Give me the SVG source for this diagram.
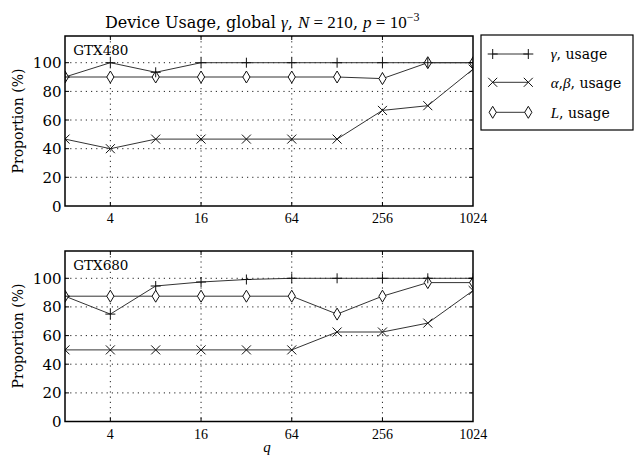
<svg xmlns="http://www.w3.org/2000/svg" xmlns:xlink="http://www.w3.org/1999/xlink" width="635" height="459" viewBox="0 0 635 459">
  <style>
    text { font-family: "DejaVu Serif", serif; fill: #000; }
    .math { font-family: "Liberation Serif", "DejaVu Serif", serif; font-style: italic; }
    .mroman { font-family: "Liberation Serif", "DejaVu Serif", serif; }
    .ytick { font-size: 15px; text-anchor: end; }
    .xtick { font-family: "Liberation Serif", "DejaVu Serif", serif; font-size: 14px; text-anchor: middle; }
    .ylabel { font-size: 14px; text-anchor: middle; }
    .grid { stroke: #222; stroke-width: 1; stroke-dasharray: 1.2 4; fill: none; }
    .spine { stroke: #000; stroke-width: 1.5; fill: none; }
    .tick { stroke: #000; stroke-width: 1; }
    .series { stroke: #333; stroke-width: 1; fill: none; stroke-linejoin: round; }
    .mk { stroke: #111; stroke-width: 1; fill: none; }
    .dia { stroke: #111; stroke-width: 1; fill: #fff; }
    .legendbox { stroke: #000; stroke-width: 1.2; fill: #fff; }
  </style>
  <defs>
    <path id="m-plus" class="mk" d="M-5,0H5M0,-5V5"/>
    <path id="m-cross" class="mk" d="M-4.5,-4.5L4.5,4.5M-4.5,4.5L4.5,-4.5"/>
    <path id="m-dia" class="dia" d="M0,-6L3.6,0L0,6L-3.6,0Z"/>
    <clipPath id="clip-top"><rect x="65" y="36" width="408" height="170"/></clipPath>
    <clipPath id="clip-bot"><rect x="65" y="251" width="408" height="170.5"/></clipPath>
  </defs>

  <rect width="635" height="459" fill="#fff"/>

  <!-- title -->
  <g id="title">
    <text x="105" y="28.3" font-size="16">Device Usage, global <tspan class="math" font-size="17">γ</tspan>, <tspan class="math" font-size="17">N</tspan><tspan class="mroman" font-size="17"> = 210</tspan>, <tspan class="math" font-size="17">p</tspan><tspan class="mroman" font-size="17"> = 10</tspan><tspan class="mroman" font-size="12" dy="-7">−3</tspan></text>
  </g>

  <!-- upper panel: GTX480 -->
  <g id="axes-gtx480">
    <g class="grid">
      <path d="M65,177.3H473M65,148.7H473M65,120H473M65,91.4H473M65,62.7H473"/>
      <path d="M110.35,36V206M201.05,36V206M291.75,36V206M382.45,36V206"/>
    </g>
    <g clip-path="url(#clip-top)">
      <polyline class="series" points="65,77 110.35,62.7 155.7,72.3 201.05,62.7 246.4,62.7 291.75,62.7 337.1,62.7 382.45,62.7 427.8,62.7 473.15,62.7"/>
      <polyline class="series" points="65,139.1 110.35,148.7 155.7,139.1 201.05,139.1 246.4,139.1 291.75,139.1 337.1,139.1 382.45,110.4 427.8,105.7 473.15,69.1"/>
      <polyline class="series" points="65,77 110.35,77 155.7,77 201.05,77 246.4,77 291.75,77 337.1,77 382.45,78.6 427.8,62.7 473.15,62.7"/>
      <g>
        <use xlink:href="#m-cross" x="65" y="139.1"/><use xlink:href="#m-cross" x="110.35" y="148.7"/>
        <use xlink:href="#m-cross" x="155.7" y="139.1"/><use xlink:href="#m-cross" x="201.05" y="139.1"/>
        <use xlink:href="#m-cross" x="246.4" y="139.1"/><use xlink:href="#m-cross" x="291.75" y="139.1"/>
        <use xlink:href="#m-cross" x="337.1" y="139.1"/><use xlink:href="#m-cross" x="382.45" y="110.4"/>
        <use xlink:href="#m-cross" x="427.8" y="105.7"/><use xlink:href="#m-cross" x="473.15" y="69.1"/>
      </g>
      <g>
        <use xlink:href="#m-dia" x="65" y="77"/><use xlink:href="#m-dia" x="110.35" y="77"/>
        <use xlink:href="#m-dia" x="155.7" y="77"/><use xlink:href="#m-dia" x="201.05" y="77"/>
        <use xlink:href="#m-dia" x="246.4" y="77"/><use xlink:href="#m-dia" x="291.75" y="77"/>
        <use xlink:href="#m-dia" x="337.1" y="77"/><use xlink:href="#m-dia" x="382.45" y="78.6"/>
        <use xlink:href="#m-dia" x="427.8" y="62.7"/><use xlink:href="#m-dia" x="473.15" y="62.7"/>
      </g>
      <g>
        <use xlink:href="#m-plus" x="65" y="77"/><use xlink:href="#m-plus" x="110.35" y="62.7"/>
        <use xlink:href="#m-plus" x="155.7" y="72.3"/><use xlink:href="#m-plus" x="201.05" y="62.7"/>
        <use xlink:href="#m-plus" x="246.4" y="62.7"/><use xlink:href="#m-plus" x="291.75" y="62.7"/>
        <use xlink:href="#m-plus" x="337.1" y="62.7"/><use xlink:href="#m-plus" x="382.45" y="62.7"/>
        <use xlink:href="#m-plus" x="427.8" y="62.7"/><use xlink:href="#m-plus" x="473.15" y="62.7"/>
      </g>
    </g>
    <g class="tick">
      <path d="M110.35,206v-4M201.05,206v-4M291.75,206v-4M382.45,206v-4M110.35,36v4M201.05,36v4M291.75,36v4M382.45,36v4"/>
      <path d="M65,177.3h4M65,148.7h4M65,120h4M65,91.4h4M65,62.7h4M473,177.3h-4M473,148.7h-4M473,120h-4M473,91.4h-4M473,62.7h-4"/>
    </g>
    <rect class="spine" x="65" y="36" width="408" height="170"/>
    <text x="73.3" y="54.5" font-size="13.5">GTX480</text>
    <g>
      <text class="ytick" x="61.5" y="211.5">0</text>
      <text class="ytick" x="61.5" y="182.8">20</text>
      <text class="ytick" x="61.5" y="154.2">40</text>
      <text class="ytick" x="61.5" y="125.5">60</text>
      <text class="ytick" x="61.5" y="96.9">80</text>
      <text class="ytick" x="61.5" y="68.2">100</text>
    </g>
    <g>
      <text class="xtick" x="110.35" y="222.5">4</text>
      <text class="xtick" x="201.05" y="222.5">16</text>
      <text class="xtick" x="291.75" y="222.5">64</text>
      <text class="xtick" x="382.45" y="222.5">256</text>
      <text class="xtick" x="473.15" y="222.5">1024</text>
    </g>
    <text class="ylabel" transform="translate(22.5,121) rotate(-90)">Proportion (%)</text>
  </g>

  <!-- lower panel: GTX680 -->
  <g id="axes-gtx680">
    <g class="grid">
      <path d="M65,392.9H473M65,364.2H473M65,335.6H473M65,306.9H473M65,278.3H473"/>
      <path d="M110.35,251V421.5M201.05,251V421.5M291.75,251V421.5M382.45,251V421.5"/>
    </g>
    <g clip-path="url(#clip-bot)">
      <polyline class="series" points="65,296.2 110.35,314.1 155.7,286 201.05,282 246.4,279.5 291.75,278.3 337.1,278.3 382.45,278.3 427.8,278.3 473.15,278.3"/>
      <polyline class="series" points="65,349.9 110.35,349.9 155.7,349.9 201.05,349.9 246.4,349.9 291.75,349.9 337.1,332 382.45,332 427.8,323.1 473.15,290.5"/>
      <polyline class="series" points="65,296.2 110.35,296.2 155.7,296.2 201.05,296.2 246.4,296.2 291.75,296.2 337.1,314.1 382.45,296.2 427.8,282.6 473.15,282.6"/>
      <g>
        <use xlink:href="#m-cross" x="65" y="349.9"/><use xlink:href="#m-cross" x="110.35" y="349.9"/>
        <use xlink:href="#m-cross" x="155.7" y="349.9"/><use xlink:href="#m-cross" x="201.05" y="349.9"/>
        <use xlink:href="#m-cross" x="246.4" y="349.9"/><use xlink:href="#m-cross" x="291.75" y="349.9"/>
        <use xlink:href="#m-cross" x="337.1" y="332"/><use xlink:href="#m-cross" x="382.45" y="332"/>
        <use xlink:href="#m-cross" x="427.8" y="323.1"/><use xlink:href="#m-cross" x="473.15" y="290.5"/>
      </g>
      <g>
        <use xlink:href="#m-dia" x="65" y="296.2"/><use xlink:href="#m-dia" x="110.35" y="296.2"/>
        <use xlink:href="#m-dia" x="155.7" y="296.2"/><use xlink:href="#m-dia" x="201.05" y="296.2"/>
        <use xlink:href="#m-dia" x="246.4" y="296.2"/><use xlink:href="#m-dia" x="291.75" y="296.2"/>
        <use xlink:href="#m-dia" x="337.1" y="314.1"/><use xlink:href="#m-dia" x="382.45" y="296.2"/>
        <use xlink:href="#m-dia" x="427.8" y="282.6"/><use xlink:href="#m-dia" x="473.15" y="282.6"/>
      </g>
      <g>
        <use xlink:href="#m-plus" x="65" y="296.2"/><use xlink:href="#m-plus" x="110.35" y="314.1"/>
        <use xlink:href="#m-plus" x="155.7" y="286"/><use xlink:href="#m-plus" x="201.05" y="282"/>
        <use xlink:href="#m-plus" x="246.4" y="279.5"/><use xlink:href="#m-plus" x="291.75" y="278.3"/>
        <use xlink:href="#m-plus" x="337.1" y="278.3"/><use xlink:href="#m-plus" x="382.45" y="278.3"/>
        <use xlink:href="#m-plus" x="427.8" y="278.3"/><use xlink:href="#m-plus" x="473.15" y="278.3"/>
      </g>
    </g>
    <g class="tick">
      <path d="M110.35,421.5v-4M201.05,421.5v-4M291.75,421.5v-4M382.45,421.5v-4M110.35,251v4M201.05,251v4M291.75,251v4M382.45,251v4"/>
      <path d="M65,392.9h4M65,364.2h4M65,335.6h4M65,306.9h4M65,278.3h4M473,392.9h-4M473,364.2h-4M473,335.6h-4M473,306.9h-4M473,278.3h-4"/>
    </g>
    <rect class="spine" x="65" y="251" width="408" height="170.5"/>
    <text x="73.3" y="269.5" font-size="13.5">GTX680</text>
    <g>
      <text class="ytick" x="61.5" y="427">0</text>
      <text class="ytick" x="61.5" y="398.4">20</text>
      <text class="ytick" x="61.5" y="369.7">40</text>
      <text class="ytick" x="61.5" y="341.1">60</text>
      <text class="ytick" x="61.5" y="312.4">80</text>
      <text class="ytick" x="61.5" y="283.8">100</text>
    </g>
    <g>
      <text class="xtick" x="110.35" y="439">4</text>
      <text class="xtick" x="201.05" y="439">16</text>
      <text class="xtick" x="291.75" y="439">64</text>
      <text class="xtick" x="382.45" y="439">256</text>
      <text class="xtick" x="473.15" y="439">1024</text>
    </g>
    <text class="ylabel" transform="translate(22.5,336) rotate(-90)">Proportion (%)</text>
    <text class="math" x="267" y="452" font-size="15" text-anchor="middle">q</text>
  </g>

  <!-- legend -->
  <g id="legend">
    <rect class="legendbox" x="481" y="35" width="152" height="95"/>
    <line class="series" x1="492.7" y1="54" x2="528.3" y2="54"/>
    <use xlink:href="#m-plus" x="492.7" y="54"/><use xlink:href="#m-plus" x="528.3" y="54"/>
    <line class="series" x1="492.7" y1="82.3" x2="528.3" y2="82.3"/>
    <use xlink:href="#m-cross" x="492.7" y="82.3"/><use xlink:href="#m-cross" x="528.3" y="82.3"/>
    <line class="series" x1="492.7" y1="112.3" x2="528.3" y2="112.3"/>
    <use xlink:href="#m-dia" x="492.7" y="112.3"/><use xlink:href="#m-dia" x="528.3" y="112.3"/>
    <text x="550.7" y="59" font-size="14"><tspan class="math" font-size="15">γ</tspan>, usage</text>
    <text x="550.7" y="87.5" font-size="14"><tspan class="math" font-size="15">α</tspan>,<tspan class="math" font-size="15">β</tspan>, usage</text>
    <text x="550.7" y="117.5" font-size="14"><tspan class="math" font-size="15">L</tspan>, usage</text>
  </g>
</svg>
